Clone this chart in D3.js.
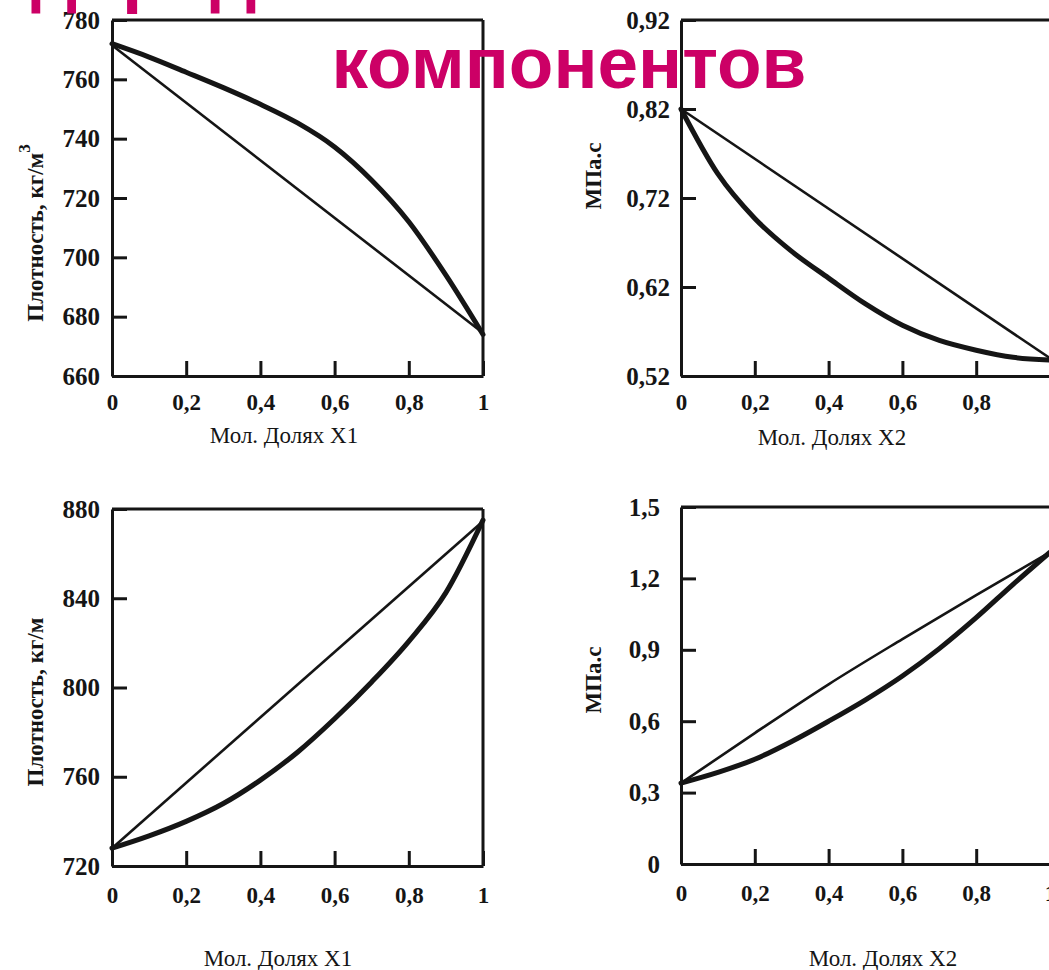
<!DOCTYPE html>
<html><head><meta charset="utf-8">
<script src="https://cdn.jsdelivr.net/npm/d3@7"></script>
<style>body{margin:0;background:#fff} svg{display:block}</style>
</head><body>
<svg id="c" width="1049" height="970"></svg>
<script>
// ---------- data ----------
const titleLine1 = "Зависимость свойств углеводородных смесей от состава";
const titleLine2 = "компонентов";

const xTickValues = [0, 0.2, 0.4, 0.6, 0.8, 1];
const xTickLabels = ["0", "0,2", "0,4", "0,6", "0,8", "1"];

const molX = [0, 0.1, 0.2, 0.3, 0.4, 0.5, 0.6, 0.7, 0.8, 0.9, 1];
const idealX2 = [0, 1];
const idealX6 = [0, 0.2, 0.4, 0.6, 0.8, 1];

// top-left: density vs X1
const densityA_real  = [772, 767.5, 762.4, 757.2, 751.6, 745.3, 737.2, 726, 712, 694, 674];
const densityA_ideal = [771.5, 674.5];
const densityA_ticks = [660, 680, 700, 720, 740, 760, 780];
const densityA_labels = ["660", "680", "700", "720", "740", "760", "780"];

// top-right: viscosity vs X2
const viscA_real  = [0.82, 0.747, 0.697, 0.660, 0.630, 0.601, 0.577, 0.560, 0.549, 0.541, 0.538];
const viscA_ideal = [0.82, 0.54];
const viscA_ticks = [0.52, 0.62, 0.72, 0.82, 0.92];
const viscA_labels = ["0,52", "0,62", "0,72", "0,82", "0,92"];

// bottom-left: density vs X1
const densityB_real  = [728, 733.5, 740, 748, 758.5, 771, 786, 802.5, 820.7, 842.5, 875];
const densityB_ideal = [728, 874.5];
const densityB_ticks = [720, 760, 800, 840, 880];
const densityB_labels = ["720", "760", "800", "840", "880"];

// bottom-right: viscosity vs X2
const viscB_real  = [0.34, 0.385, 0.44, 0.515, 0.60, 0.69, 0.79, 0.905, 1.035, 1.175, 1.31];
const viscB_ideal = [0.34, 0.55, 0.755, 0.945, 1.13, 1.31];
const viscB_ticks = [0, 0.3, 0.6, 0.9, 1.2, 1.5];
const viscB_labels = ["0", "0,3", "0,6", "0,9", "1,2", "1,5"];

const yTitleDensity = "Плотность, кг/м";
const yTitleVisc = "МПа.с";
const xTitle1 = "Мол. Долях X1";
const xTitle2 = "Мол. Долях X2";

// ---------- layout ----------
const panels = [
  { real: densityA_real, ideal: densityA_ideal, idealX: idealX2, yDomain: [660, 780],
    yTicks: densityA_ticks, yLabels: densityA_labels, xr: [112, 483], yr: [376, 20],
    right: true, topEnd: 483, xLabN: 6, yPad: 12, xPad: 18,
    yTitle: yTitleDensity, sup: "3", yTitlePos: [35, 233],
    xTitle: xTitle1, xTitlePos: [284, 443] },
  { real: viscA_real, ideal: viscA_ideal, idealX: idealX2, yDomain: [0.52, 0.92],
    yTicks: viscA_ticks, yLabels: viscA_labels, xr: [681, 1050], yr: [376, 20],
    right: false, topEnd: 1049, xLabN: 5, yPad: 11, xPad: 18,
    yTitle: yTitleVisc, sup: null, yTitlePos: [593, 176],
    xTitle: xTitle2, xTitlePos: [832, 445] },
  { real: densityB_real, ideal: densityB_ideal, idealX: idealX2, yDomain: [720, 880],
    yTicks: densityB_ticks, yLabels: densityB_labels, xr: [112, 483], yr: [866, 509],
    right: true, topEnd: 483, xLabN: 6, yPad: 12, xPad: 21,
    yTitle: yTitleDensity, sup: null, yTitlePos: [35, 702],
    xTitle: xTitle1, xTitlePos: [278, 966] },
  { real: viscB_real, ideal: viscB_ideal, idealX: idealX6, yDomain: [0, 1.5],
    yTicks: viscB_ticks, yLabels: viscB_labels, xr: [681, 1050], yr: [864, 507],
    right: false, topEnd: 1049, xLabN: 6, yPad: 21, xPad: 21,
    yTitle: yTitleVisc, sup: null, yTitlePos: [593, 680],
    xTitle: xTitle2, xTitlePos: [883, 966] }
];

const svg = d3.select("#c");
const ink = "#151515";
const serif = "'Liberation Serif','Times New Roman',serif";

panels.forEach(p => {
  const x = d3.scaleLinear().domain([0, 1]).range(p.xr);
  const y = d3.scaleLinear().domain(p.yDomain).range(p.yr);
  const g = svg.append("g");

  g.append("line").attr("x1", p.xr[0]).attr("x2", p.topEnd)
    .attr("y1", p.yr[1]).attr("y2", p.yr[1]).attr("stroke", ink).attr("stroke-width", 3);
  if (p.right) g.append("line").attr("x1", p.xr[1]).attr("x2", p.xr[1])
    .attr("y1", p.yr[1]).attr("y2", p.yr[0]).attr("stroke", ink).attr("stroke-width", 3);

  const xa = g.append("g").attr("transform", `translate(0,${p.yr[0]})`)
    .call(d3.axisBottom(x).tickValues(xTickValues.slice(0, p.xLabN))
      .tickFormat((d, i) => xTickLabels[i]).tickSizeInner(-15).tickSizeOuter(0).tickPadding(p.xPad));
  const ya = g.append("g").attr("transform", `translate(${p.xr[0]},0)`)
    .call(d3.axisLeft(y).tickValues(p.yTicks)
      .tickFormat((d, i) => p.yLabels[i]).tickSizeInner(-15).tickSizeOuter(0).tickPadding(p.yPad));
  [xa, ya].forEach(a => {
    a.select(".domain").attr("stroke", ink).attr("stroke-width", 3);
    a.selectAll(".tick line").attr("stroke", ink).attr("stroke-width", 3);
    a.selectAll(".tick text").attr("fill", ink).attr("font-family", serif)
      .attr("font-weight", "bold");
  });
  xa.selectAll(".tick text").attr("font-size", 23);
  ya.selectAll(".tick text").attr("font-size", 25);

  const idealPts = p.idealX.map((v, i) => [v, p.ideal[i]]);
  g.append("path").datum(idealPts)
    .attr("d", d3.line().x(d => x(d[0])).y(d => y(d[1])).curve(d3.curveMonotoneX))
    .attr("fill", "none").attr("stroke", ink).attr("stroke-width", 2.6);

  const realPts = molX.map((v, i) => [v, p.real[i]]);
  g.append("path").datum(realPts)
    .attr("d", d3.line().x(d => x(d[0])).y(d => y(d[1])).curve(d3.curveMonotoneX))
    .attr("fill", "none").attr("stroke", ink).attr("stroke-width", 5)
    .attr("stroke-linecap", "round");

  const yt = g.append("text")
    .attr("transform", `translate(${p.yTitlePos[0]},${p.yTitlePos[1]}) rotate(-90)`)
    .attr("text-anchor", "middle").attr("dominant-baseline", "central")
    .attr("font-family", serif).attr("font-weight", "bold").attr("font-size", 23)
    .attr("fill", ink).text(p.yTitle);
  if (p.sup) yt.append("tspan").attr("dy", -11).attr("font-size", 17).text(p.sup);

  g.append("text").attr("x", p.xTitlePos[0]).attr("y", p.xTitlePos[1])
    .attr("text-anchor", "middle").attr("font-family", serif).attr("font-size", 23)
    .attr("fill", ink).text(p.xTitle);
});

// heading (drawn on top)
const hFont = "'Liberation Sans',Arial,sans-serif";
const t1 = svg.append("text").attr("x", 0).attr("y", -1)
  .attr("font-family", hFont).attr("font-weight", "bold").attr("font-size", 73)
  .attr("fill", "#cc0066").text(titleLine1);
const idx = titleLine1.indexOf("водородных") + 2;
const pos = t1.node().getStartPositionOfChar(idx).x;
t1.attr("x", 31 - pos);

svg.append("text").attr("x", 569).attr("y", 88).attr("text-anchor", "middle")
  .attr("font-family", hFont).attr("font-weight", "bold").attr("font-size", 73)
  .attr("fill", "#cc0066").text(titleLine2);
</script>
</body></html>
